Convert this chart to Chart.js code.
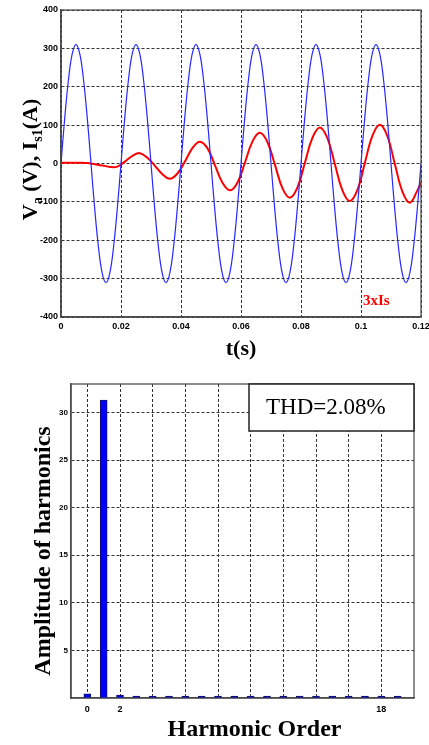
<!DOCTYPE html>
<html>
<head>
<meta charset="utf-8">
<script src="https://cdn.jsdelivr.net/npm/chart.js@4.4.1/dist/chart.umd.min.js"></script>
<style>
  html, body { margin: 0; padding: 0; background: #fff; }
  body { width: 429px; height: 745px; position: relative; overflow: hidden; }
  #wrapTop { position: absolute; left: 0; top: 0; width: 429px; height: 365px; }
  #wrapBot { position: absolute; left: 0; top: 365px; width: 429px; height: 380px; }
</style>
</head>
<body>
<div id="wrapTop"><canvas id="top" width="429" height="365"></canvas></div>
<div id="wrapBot"><canvas id="bot" width="429" height="380"></canvas></div>
<script>
// ---------------- DATA: time-domain chart ----------------
const timeVa = [
  0,0.00125,0.0025,0.00375,0.005,0.00625,0.0075,0.00875,0.01,0.01125,0.0125,0.01375,0.015,0.01625,0.0175,0.01875,
  0.02,0.02125,0.0225,0.02375,0.025,0.02625,0.0275,0.02875,0.03,0.03125,0.0325,0.03375,0.035,0.03625,0.0375,0.03875,
  0.04,0.04125,0.0425,0.04375,0.045,0.04625,0.0475,0.04875,0.05,0.05125,0.0525,0.05375,0.055,0.05625,0.0575,0.05875,
  0.06,0.06125,0.0625,0.06375,0.065,0.06625,0.0675,0.06875,0.07,0.07125,0.0725,0.07375,0.075,0.07625,0.0775,0.07875,
  0.08,0.08125,0.0825,0.08375,0.085,0.08625,0.0875,0.08875,0.09,0.09125,0.0925,0.09375,0.095,0.09625,0.0975,0.09875,
  0.1,0.10125,0.1025,0.10375,0.105,0.10625,0.1075,0.10875,0.11,0.11125,0.1125,0.11375,0.115,0.11625,0.1175,0.11875,
  0.12
];
const valuesVa = [
  0,119,219,286,310,286,219,119,0,-119,-219,-286,-310,-286,-219,-119,
  0,119,219,286,310,286,219,119,0,-119,-219,-286,-310,-286,-219,-119,
  0,119,219,286,310,286,219,119,0,-119,-219,-286,-310,-286,-219,-119,
  0,119,219,286,310,286,219,119,0,-119,-219,-286,-310,-286,-219,-119,
  0,119,219,286,310,286,219,119,0,-119,-219,-286,-310,-286,-219,-119,
  0,119,219,286,310,286,219,119,0,-119,-219,-286,-310,-286,-219,-119,
  0
];
const timeIs = [
  0,0.0013,0.0038,0.0063,0.0088,0.0113,0.0138,0.0163,0.0188,0.0213,0.0238,0.0263,0.0288,
  0.0313,0.0338,0.0363,0.0388,0.0413,0.0438,0.0463,0.0488,0.0513,0.0538,0.0563,0.0588,
  0.0613,0.0638,0.0663,0.0688,0.0713,0.0738,0.0763,0.0788,0.0813,0.0838,0.0863,0.0888,
  0.0913,0.0938,0.0963,0.0988,0.1013,0.1038,0.1063,0.1088,0.1113,0.1138,0.1163,0.1188,0.12
];
const values3Is = [
  2,2,2,2,1,-2,-5,-9,-8,5,20,27,15,
  -6,-28,-40,-26,5,40,57,40,-4,-50,-70,-50,
  2,57,80,56,-3,-64,-89,-63,2,67,94,66,
  -2,-70,-98,-69,2,72,101,71,-2,-73,-102,-70,-50
];
const timeTicks = [0,0.02,0.04,0.06,0.08,0.1,0.12];
const timeTickLabels = ['0','0.02','0.04','0.06','0.08','0.1','0.12'];
const voltTicks = [-400,-300,-200,-100,0,100,200,300,400];

// ---------------- DATA: harmonic spectrum ----------------
const harmonicOrder = [0,1,2,3,4,5,6,7,8,9,10,11,12,13,14,15,16,17,18,19];
const harmonicAmp = [0.45,31.3,0.3,0.12,0.05,0.05,0.05,0.05,0.05,0.05,0.05,0.05,0.05,0.05,0.05,0,0.05,0.05,0.05,0.05];
const orderTicks = [0,2,4,6,8,10,12,14,16,18];
const orderTickLabels = {0:'0',2:'2',18:'18'};
const ampTicks = [5,10,15,20,25,30];
const thdText = 'THD=2.08%';

// ---------------- helpers ----------------
const SERIF = '"Liberation Serif", "Times New Roman", serif';
const NARROW = '"Liberation Sans Narrow", "Arial Narrow", "Liberation Sans", sans-serif';

function drawVertical(ctx, parts, baselineX, cy) {
  ctx.save();
  ctx.translate(baselineX, cy);
  ctx.rotate(-Math.PI / 2);
  ctx.fillStyle = '#000';
  ctx.textBaseline = 'alphabetic';
  ctx.textAlign = 'left';
  let total = 0;
  parts.forEach(p => { ctx.font = p.font; p.w = ctx.measureText(p.t).width; total += p.w; });
  let x = -total / 2;
  parts.forEach(p => { ctx.font = p.font; ctx.fillText(p.t, x, p.dy || 0); x += p.w; });
  ctx.restore();
}
function fitX(h) { return s => { s.height = h; s.paddingLeft = 0; s.paddingRight = 0; }; }
function fitY(w) { return s => { s.width = w; s.paddingTop = 0; s.paddingBottom = 0; }; }

Chart.defaults.color = '#000';
Chart.defaults.animation = false;

// ---------------- top chart ----------------
const topDecor = {
  id: 'topDecor',
  afterDraw(chart) {
    const ctx = chart.ctx, a = chart.chartArea;
    ctx.save();
    ctx.strokeStyle = '#444';
    ctx.lineWidth = 1.2;
    ctx.strokeRect(a.left, a.top, a.right - a.left, a.bottom - a.top);
    ctx.fillStyle = '#000';
    ctx.font = 'bold 22px ' + SERIF;
    ctx.textAlign = 'center';
    ctx.textBaseline = 'alphabetic';
    ctx.fillText('t(s)', (a.left + a.right) / 2, a.bottom + 38);
    ctx.fillStyle = '#ff0000';
    ctx.font = 'bold 15px ' + SERIF;
    ctx.textAlign = 'left';
    ctx.fillText('3xIs', a.right - 58, a.bottom - 12);
    ctx.restore();
    const big = 'bold 22px ' + SERIF, small = 'bold 14px ' + SERIF;
    drawVertical(ctx, [
      {t: 'V', font: big}, {t: 'a', font: small, dy: 5},
      {t: ' (V), I', font: big}, {t: 's1', font: small, dy: 5},
      {t: '(A)', font: big}
    ], 37, (a.top + a.bottom) / 2 - 4);
  }
};

new Chart(document.getElementById('top'), {
  type: 'line',
  data: {
    datasets: [
      {
        data: timeVa.map((t, i) => ({x: t, y: valuesVa[i]})),
        borderColor: 'rgb(40,40,255)',
        borderWidth: 1.2,
        pointRadius: 0,
        tension: 0.4,
        fill: false
      },
      {
        data: timeIs.map((t, i) => ({x: t, y: values3Is[i]})),
        borderColor: '#ff0000',
        borderWidth: 2,
        pointRadius: 0,
        tension: 0.4,
        fill: false
      }
    ]
  },
  options: {
    responsive: false,
    devicePixelRatio: 1,
    layout: { padding: { left: 0, right: 8, top: 10, bottom: 0 } },
    plugins: { legend: { display: false }, tooltip: { enabled: false } },
    scales: {
      x: {
        type: 'linear', min: 0, max: 0.12,
        afterBuildTicks: s => { s.ticks = timeTicks.map(v => ({value: v})); },
        afterFit: fitX(48),
        ticks: {
          autoSkip: false, maxRotation: 0, padding: 4,
          font: { family: NARROW, size: 9, weight: 'bold' },
          callback: (v, i) => timeTickLabels[i]
        },
        grid: { color: '#333', lineWidth: 1, drawTicks: false },
        border: { color: '#555', width: 1.5, dash: [3, 2] }
      },
      y: {
        type: 'linear', min: -400, max: 400,
        afterBuildTicks: s => { s.ticks = voltTicks.map(v => ({value: v})); },
        afterFit: fitY(61),
        ticks: {
          autoSkip: false, padding: 3,
          font: { family: NARROW, size: 9, weight: 'bold' },
          callback: v => String(v)
        },
        grid: { color: '#333', lineWidth: 1, drawTicks: false },
        border: { color: '#555', width: 1.5, dash: [3, 2] }
      }
    }
  },
  plugins: [topDecor]
});

// ---------------- bottom chart ----------------
const botDecor = {
  id: 'botDecor',
  afterDraw(chart) {
    const ctx = chart.ctx, a = chart.chartArea;
    ctx.save();
    ctx.strokeStyle = '#444';
    ctx.lineWidth = 1.2;
    ctx.strokeRect(a.left, a.top, a.right - a.left, a.bottom - a.top);
    const bw = 165, bh = 47;
    const bx = a.right - bw, by = a.top;
    ctx.fillStyle = '#fff';
    ctx.fillRect(bx, by, bw, bh);
    ctx.strokeStyle = '#222';
    ctx.lineWidth = 1.5;
    ctx.strokeRect(bx, by, bw, bh);
    ctx.fillStyle = '#000';
    ctx.font = '23px ' + SERIF;
    ctx.textAlign = 'left';
    ctx.textBaseline = 'alphabetic';
    ctx.fillText(thdText, bx + 17, by + 30);
    ctx.font = 'bold 24px ' + SERIF;
    ctx.textAlign = 'center';
    ctx.fillText('Harmonic Order', (a.left + a.right) / 2 + 12, a.bottom + 38);
    ctx.restore();
    drawVertical(ctx, [{t: 'Amplitude of harmonics', font: 'bold 24px ' + SERIF}],
      50, (a.top + a.bottom) / 2 + 10);
  }
};

new Chart(document.getElementById('bot'), {
  type: 'bar',
  data: {
    datasets: [{
      data: harmonicOrder.map((h, i) => ({x: h, y: harmonicAmp[i]})),
      backgroundColor: '#0000ff',
      borderColor: '#101060',
      borderWidth: 1,
      barThickness: 7,
      minBarLength: 2
    }]
  },
  options: {
    responsive: false,
    devicePixelRatio: 1,
    layout: { padding: { left: 0, right: 15, top: 19, bottom: 0 } },
    plugins: { legend: { display: false }, tooltip: { enabled: false } },
    scales: {
      x: {
        type: 'linear', min: -1, max: 20, offset: false,
        afterBuildTicks: s => { s.ticks = orderTicks.map(v => ({value: v})); },
        afterFit: fitX(47),
        ticks: {
          autoSkip: false, maxRotation: 0, padding: 6,
          font: { family: NARROW, size: 9, weight: 'bold' },
          callback: v => (orderTickLabels[v] !== undefined ? orderTickLabels[v] : '')
        },
        grid: { color: '#333', lineWidth: 1, drawTicks: false, offset: false },
        border: { color: '#555', width: 1.5, dash: [3, 2] }
      },
      y: {
        type: 'linear', min: 0, max: 33,
        afterBuildTicks: s => { s.ticks = ampTicks.map(v => ({value: v})); },
        afterFit: fitY(71),
        ticks: {
          autoSkip: false, padding: 3,
          font: { family: NARROW, size: 8, weight: 'bold' },
          callback: v => String(v)
        },
        grid: { color: '#333', lineWidth: 1, drawTicks: false },
        border: { color: '#555', width: 1.5, dash: [3, 2] }
      }
    }
  },
  plugins: [botDecor]
});
</script>
</body>
</html>
